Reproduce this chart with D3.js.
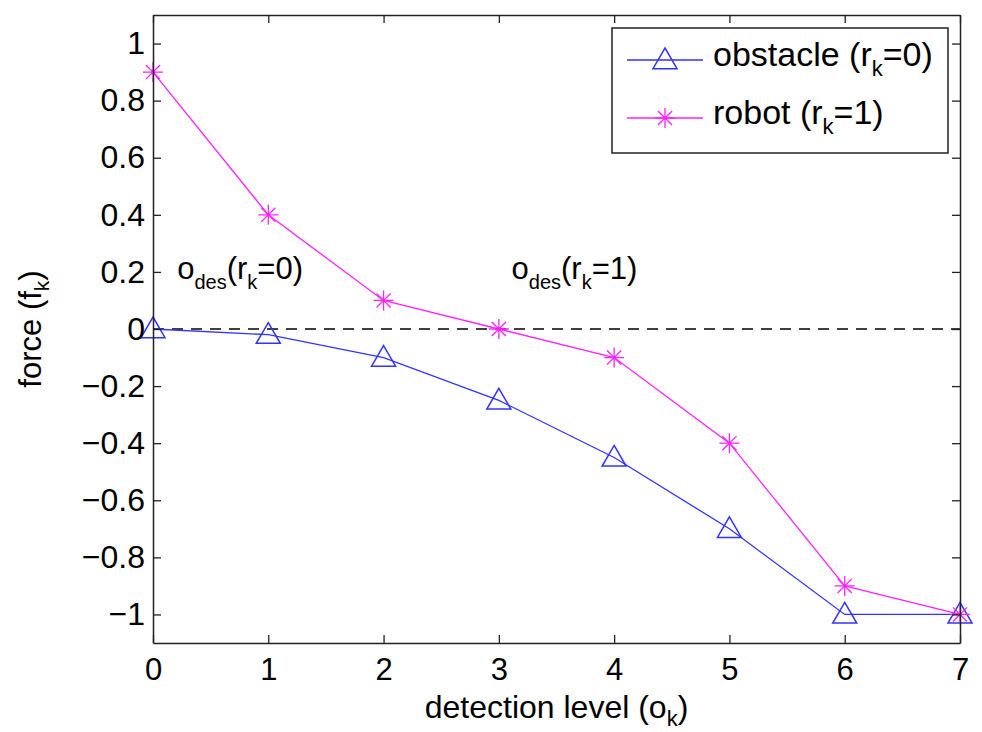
<!DOCTYPE html>
<html>
<head>
<meta charset="utf-8">
<script src="https://cdn.jsdelivr.net/npm/d3@7"></script>
<style>
  body { margin: 0; background: #fff; }
  svg text { font-family: "Liberation Sans", Arial, Helvetica, sans-serif; fill: #000; }
</style>
</head>
<body>
<svg></svg>
<script>
// detection level on x
let levels = [0, 1, 2, 3, 4, 5, 6, 7]
// force values
let obstacleForce = [0, -0.02, -0.1, -0.25, -0.45, -0.7, -1, -1]
let robotForce = [0.9, 0.4, 0.1, 0, -0.1, -0.4, -0.9, -1]

let xTicks = [0, 1, 2, 3, 4, 5, 6, 7]
let yTicks = [-1, -0.8, -0.6, -0.4, -0.2, 0, 0.2, 0.4, 0.6, 0.8, 1]

// annotations: [x, y, label value of r_k]
let notes = [[0.21, 0.175, "0"], [3.11, 0.175, "1"]]

let width = 982
let height = 732
let margin = {left: 153, right: 22, top: 15, bottom: 89}

let svg = d3.select("svg")
    .attr("width", width)
    .attr("height", height)

let xScale = d3.scaleLinear()
    .domain([0, 7])
    .range([margin.left, width - margin.right])

let yScale = d3.scaleLinear()
    .domain([-1.1, 1.1])
    .range([height - margin.bottom, margin.top])

let blue = "#3333ff"
let magenta = "#ff22ff"

// zero reference line
svg.append("line")
    .attr("x1", xScale(0))
    .attr("x2", xScale(7))
    .attr("y1", yScale(0))
    .attr("y2", yScale(0))
    .attr("stroke", "#000")
    .attr("stroke-width", 1.3)
    .attr("stroke-dasharray", "11,8")

let line = d3.line()
    .x((d, i) => xScale(levels[i]))
    .y(d => yScale(d))

let drawTriangle = (g, cx, cy, color) => {
    let s = 12
    g.append("path")
        .attr("d", "M" + cx + "," + (cy - s) + "L" + (cx + s) + "," + (cy + s * 0.72) + "L" + (cx - s) + "," + (cy + s * 0.72) + "Z")
        .attr("fill", "none")
        .attr("stroke", color)
        .attr("stroke-width", 1.5)
}

let drawStar = (g, cx, cy, color) => {
    let r = 10
    let p = ""
    for (let a = 0; a < 180; a += 45) {
        let t = (a + 90) * Math.PI / 180
        p += "M" + (cx - r * Math.cos(t)) + "," + (cy - r * Math.sin(t)) + "L" + (cx + r * Math.cos(t)) + "," + (cy + r * Math.sin(t))
    }
    g.append("path")
        .attr("d", p)
        .attr("stroke", color)
        .attr("stroke-width", 1.3)
}

let series = [
    {values: obstacleForce, color: blue, marker: drawTriangle},
    {values: robotForce, color: magenta, marker: drawStar}
]

series.forEach(s => {
    svg.append("path")
        .datum(s.values)
        .attr("d", line)
        .attr("fill", "none")
        .attr("stroke", s.color)
        .attr("stroke-width", 1.3)
    let g = svg.append("g")
    s.values.forEach((v, i) => s.marker(g, xScale(levels[i]), yScale(v), s.color))
})

// axes (matlab style box with inward ticks)
let tickLen = 8
let fmt = d => (d < 0 ? "\u2212" : "") + d3.format("")(Math.abs(d))

let xAxis = d3.axisBottom(xScale).tickValues(xTicks).tickSizeInner(-tickLen).tickSizeOuter(0).tickPadding(14).tickFormat(d3.format("d"))
let yAxis = d3.axisLeft(yScale).tickValues(yTicks).tickSizeInner(-tickLen).tickSizeOuter(0).tickPadding(16).tickFormat(fmt)
let xTop = d3.axisTop(xScale).tickValues(xTicks).tickSizeInner(-tickLen).tickSizeOuter(0).tickFormat("")
let yRight = d3.axisRight(yScale).tickValues(yTicks).tickSizeInner(-tickLen).tickSizeOuter(0).tickFormat("")

let gx = svg.append("g")
    .attr("transform", "translate(0," + (height - margin.bottom) + ")")
    .call(xAxis)
let gy = svg.append("g")
    .attr("transform", "translate(" + margin.left + ",0)")
    .call(yAxis)
let gt = svg.append("g")
    .attr("transform", "translate(0," + margin.top + ")")
    .call(xTop)
let gr = svg.append("g")
    .attr("transform", "translate(" + (width - margin.right) + ",0)")
    .call(yRight)

;[gx, gy, gt, gr].forEach(g => {
    g.select(".domain").attr("stroke", "#222").attr("stroke-width", 1.5)
    g.selectAll(".tick line").attr("stroke", "#222").attr("stroke-width", 1.3)
    g.selectAll(".tick text").attr("font-size", 32).attr("font-family", null).attr("fill", "#000")
})
gy.selectAll(".tick text").attr("dx", 8)
gx.selectAll(".tick text").attr("font-size", 31).attr("dy", "0.74em")

// axis labels
svg.append("text")
    .attr("x", xScale(3.5))
    .attr("y", 718)
    .attr("text-anchor", "middle")
    .attr("font-size", 32)
    .call(t => {
        t.append("tspan").text("detection level (o")
        t.append("tspan").attr("font-size", 22).attr("dy", 8).text("k")
        t.append("tspan").attr("dy", -8).text(")")
    })

svg.append("text")
    .attr("transform", "translate(41," + yScale(0) + ") rotate(-90)")
    .attr("text-anchor", "middle")
    .attr("font-size", 31)
    .call(t => {
        t.append("tspan").text("force (f")
        t.append("tspan").attr("font-size", 21).attr("dy", 8).text("k")
        t.append("tspan").attr("dy", -8).text(")")
    })

// annotations
notes.forEach(n => {
    svg.append("text")
        .attr("x", xScale(n[0]))
        .attr("y", yScale(n[1]))
        .attr("font-size", 31)
        .call(t => {
            t.append("tspan").text("o")
            t.append("tspan").attr("font-size", 20).attr("dy", 10).text("des")
            t.append("tspan").attr("dy", -10).text("(r")
            t.append("tspan").attr("font-size", 20).attr("dy", 10).text("k")
            t.append("tspan").attr("dy", -10).text("=" + n[2] + ")")
        })
})

// legend
let legendNames = [["obstacle (r", "=0)"], ["robot (r", "=1)"]]
let lg = svg.append("g").attr("transform", "translate(612,28)")
lg.append("rect")
    .attr("width", 336)
    .attr("height", 125)
    .attr("fill", "#fff")
    .attr("stroke", "#222")
    .attr("stroke-width", 1.5)
series.forEach((s, i) => {
    let y = 32 + i * 58
    lg.append("line")
        .attr("x1", 15).attr("x2", 91)
        .attr("y1", y).attr("y2", y)
        .attr("stroke", s.color)
        .attr("stroke-width", 1.3)
    s.marker(lg, 53, y, s.color)
    lg.append("text")
        .attr("x", 101)
        .attr("y", y + 6)
        .attr("font-size", 34)
        .call(t => {
            t.append("tspan").text(legendNames[i][0])
            t.append("tspan").attr("font-size", 22).attr("dy", 10).text("k")
            t.append("tspan").attr("dy", -10).text(legendNames[i][1])
        })
})
</script>
</body>
</html>
